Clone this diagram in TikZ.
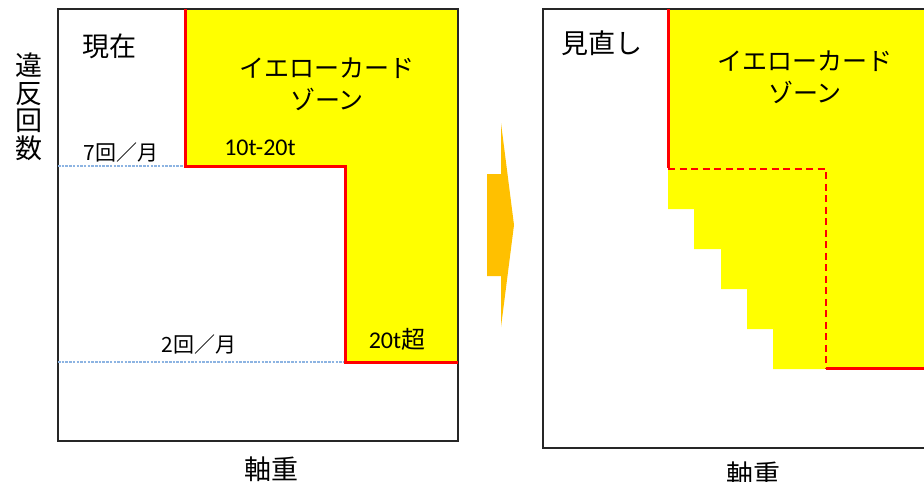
\documentclass[tikz,border=0pt]{standalone}
\usepackage{fontspec}
\setmainfont{Carlito}
\newfontfamily\jp{Noto Sans CJK JP}
\definecolor{yel}{HTML}{FFFF00}
\definecolor{redl}{HTML}{FF0000}
\definecolor{arr}{HTML}{FFC000}
\definecolor{dotb}{HTML}{8DB4E2}
\begin{document}
\begin{tikzpicture}[x=1pt,y=-1pt,
  txt/.style={inner sep=0pt, anchor=center, text=black},
  frame/.style={draw=black!85, line width=1.2pt},
  redline/.style={draw=redl, line width=3pt},
  reddash/.style={draw=redl, line width=2pt, dash pattern=on 7pt off 4.5pt},
  guide/.style={draw=dotb, line width=1.1pt, dash pattern=on 2.5pt off 1.2pt},
  big/.style={font=\jp\fontsize{27}{28}\selectfont},
  mid/.style={font=\jp\fontsize{25}{32}\selectfont},
  small/.style={font=\jp\fontsize{21}{24}\selectfont},
  lat/.style={font=\fontsize{24}{28}\selectfont}]
\useasboundingbox (0,0) rectangle (924,482);
\clip (0,0) rectangle (924,482);
% ---------- left panel ----------
\fill[yel] (185,9) -- (458,9) -- (458,362) -- (345,362) -- (345,166) -- (185,166) -- cycle;
\draw[frame] (58,9) rectangle (458,441);
\draw[guide] (58,166) -- (185,166);
\draw[guide] (58,362) -- (345,362);
\draw[redline] (185,9) -- (185,166) -- (345,166) -- (345,362) -- (458,362);
\node[txt, big] (now) at (109,46) {現在};
\node[txt, mid, align=center] (zoneL) at (327,84) {イエローカード\\ゾーン};
\node[txt, small] (m7) at (121,153) {7回／月};
\node[txt, small] (m2) at (199,345) {2回／月};
\node[txt, lat] (w1) at (260,148) {10t-20t};
\node[txt, lat] (w2) at (397,339) {20t{\jp 超}};
\node[txt, font=\jp\fontsize{27}{27.5}\selectfont, align=center] (yaxis) at (29,107) {違\\反\\回\\数};
\node[txt, big] (xL) at (271,469) {軸重};
% ---------- arrow ----------
\fill[arr] (487,174) -- (501,174) -- (501,123) -- (514,225) -- (501,327) -- (501,276) -- (487,276) -- cycle;
% ---------- right panel ----------
\fill[yel] (668,9) -- (930,9) -- (930,369) -- (773,369) -- (773,329) -- (747,329) -- (747,289)
  -- (721,289) -- (721,249) -- (694,249) -- (694,209) -- (668,209) -- cycle;
\draw[frame] (543,9) rectangle (940,448);
\draw[redline] (668,9) -- (668,168);
\draw[reddash] (668,169) -- (826,169) -- (826,368);
\draw[redline] (826,368) -- (930,368);
\node[txt, big] (rev) at (602,43) {見直し};
\node[txt, mid, align=center] (zoneR) at (805,77) {イエローカード\\ゾーン};
\node[txt, big] (xR) at (753,474) {軸重};
\end{tikzpicture}
\end{document}
